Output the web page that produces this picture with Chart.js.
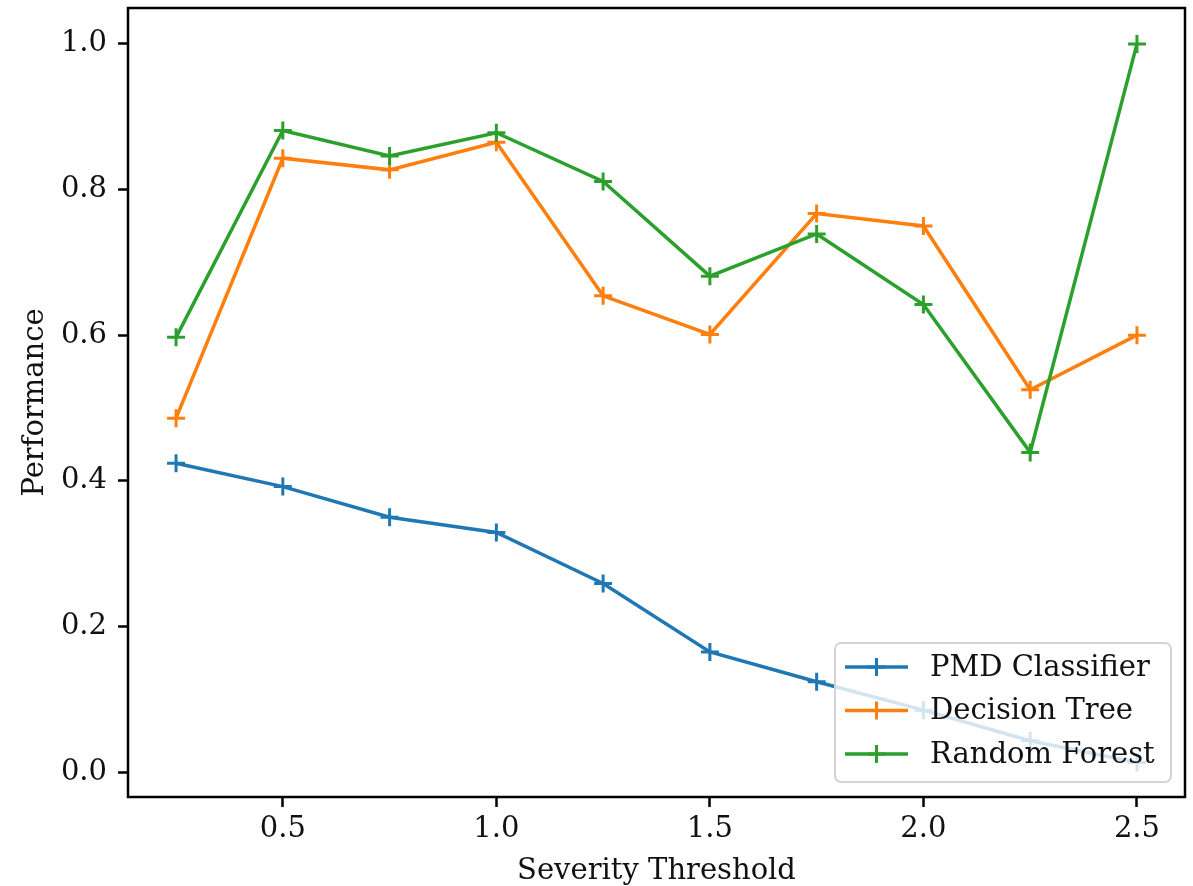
<!DOCTYPE html>
<html>
<head>
<meta charset="utf-8">
<script src="https://cdn.jsdelivr.net/npm/chart.js@4"></script>
<style>
  html, body { margin: 0; padding: 0; background: #fff; }
  #wrap { width: 1193px; height: 886px; }
</style>
</head>
<body>
<div id="wrap"><canvas id="myChart" width="1193" height="886"></canvas></div>
<script>
const thresholds = [0.25, 0.5, 0.75, 1.0, 1.25, 1.5, 1.75, 2.0, 2.25, 2.5];
const pmdClassifier = [0.424, 0.392, 0.350, 0.329, 0.259, 0.165, 0.124, 0.085, 0.043, 0.013];
const decisionTree = [0.486, 0.843, 0.827, 0.865, 0.654, 0.601, 0.767, 0.750, 0.525, 0.600];
const randomForest = [0.597, 0.881, 0.846, 0.878, 0.811, 0.681, 0.739, 0.642, 0.439, 1.0];
const xTicks = [0.5, 1.0, 1.5, 2.0, 2.5];
const yTicks = [0.0, 0.2, 0.4, 0.6, 0.8, 1.0];

const FONT = "'DejaVu Serif', serif";
const FS = 29;

const toPoints = (ys) => thresholds.map((x, i) => ({ x: x, y: ys[i] }));

function series(label, values, color, order) {
  return {
    label: label,
    data: toPoints(values),
    borderColor: color,
    backgroundColor: color,
    borderWidth: 3.5,
    pointStyle: 'cross',
    pointRadius: 9,
    pointBorderWidth: 3,
    pointHoverRadius: 9,
    tension: 0,
    order: order,
    clip: false,
  };
}

const data = {
  datasets: [
    series('PMD Classifier', pmdClassifier, '#1f77b4', 2),
    series('Decision Tree', decisionTree, '#ff7f0e', 1),
    series('Random Forest', randomForest, '#2ca02c', 0),
  ],
};

// frame on all four sides, plus a matplotlib-like legend in the lower right
const framePlugin = {
  id: 'frame',
  afterDatasetsDraw(chart) {
    const { ctx, chartArea: a } = chart;
    ctx.save();
    ctx.strokeStyle = '#000';
    ctx.lineWidth = 2.5;
    ctx.strokeRect(a.left, a.top, a.right - a.left, a.bottom - a.top);

    // legend
    const x0 = a.right - 350, y0 = a.bottom - 154, w = 336, h = 139;
    ctx.fillStyle = 'rgba(255,255,255,0.8)';
    ctx.strokeStyle = '#d4d4d4';
    ctx.lineWidth = 2;
    ctx.beginPath();
    ctx.roundRect(x0, y0, w, h, 6);
    ctx.fill();
    ctx.stroke();
    ctx.font = FS + 'px ' + FONT;
    ctx.textBaseline = 'middle';
    chart.data.datasets.forEach((ds, i) => {
      const y = y0 + 24 + i * 43.5;
      ctx.strokeStyle = ds.borderColor;
      ctx.lineWidth = 3.5;
      ctx.beginPath();
      ctx.moveTo(x0 + 10, y);
      ctx.lineTo(x0 + 73, y);
      ctx.stroke();
      ctx.lineWidth = 3;
      ctx.beginPath();
      ctx.moveTo(x0 + 41.5, y - 9);
      ctx.lineTo(x0 + 41.5, y + 9);
      ctx.moveTo(x0 + 32.5, y);
      ctx.lineTo(x0 + 50.5, y);
      ctx.stroke();
      ctx.fillStyle = '#111';
      ctx.fillText(ds.label, x0 + 95, y + 1);
    });
    ctx.restore();
  },
};

const config = {
  type: 'line',
  data: data,
  options: {
    responsive: false,
    animation: false,
    layout: { autoPadding: false, padding: { top: 8, right: 8, left: 0, bottom: 0 } },
    plugins: {
      legend: { display: false },
      tooltip: { enabled: false },
    },
    scales: {
      x: {
        type: 'linear',
        min: 0.1375,
        max: 2.6125,
        afterBuildTicks: (scale) => { scale.ticks = xTicks.map(v => ({ value: v })); },
        afterFit: (scale) => {
          scale.height = 89;
          scale.paddingLeft = 0;
          scale.paddingRight = 0;
        },
        grid: { drawOnChartArea: false, tickLength: 10, tickColor: '#000', tickWidth: 2.5 },
        border: { display: false },
        ticks: {
          color: '#111',
          font: { family: FONT, size: FS },
          padding: 5,
          maxRotation: 0,
          callback: (v) => v.toFixed(1),
        },
        title: {
          display: true,
          text: 'Severity Threshold',
          color: '#111',
          font: { family: FONT, size: FS },
          padding: { top: 0, bottom: -3 },
        },
      },
      y: {
        type: 'linear',
        min: -0.0343,
        max: 1.0493,
        afterBuildTicks: (scale) => { scale.ticks = yTicks.map(v => ({ value: v })); },
        afterFit: (scale) => {
          scale.width = 128;
          scale.paddingTop = 0;
          scale.paddingBottom = 0;
        },
        grid: { drawOnChartArea: false, tickLength: 10, tickColor: '#000', tickWidth: 2.5 },
        border: { display: false },
        ticks: {
          color: '#111',
          font: { family: FONT, size: FS },
          padding: 11,
          callback: (v) => v.toFixed(1),
        },
        title: {
          display: true,
          text: 'Performance',
          color: '#111',
          font: { family: FONT, size: FS },
          padding: { top: 18, bottom: 0 },
        },
      },
    },
  },
  plugins: [framePlugin],
};

new Chart(document.getElementById('myChart'), config);
</script>
</body>
</html>
